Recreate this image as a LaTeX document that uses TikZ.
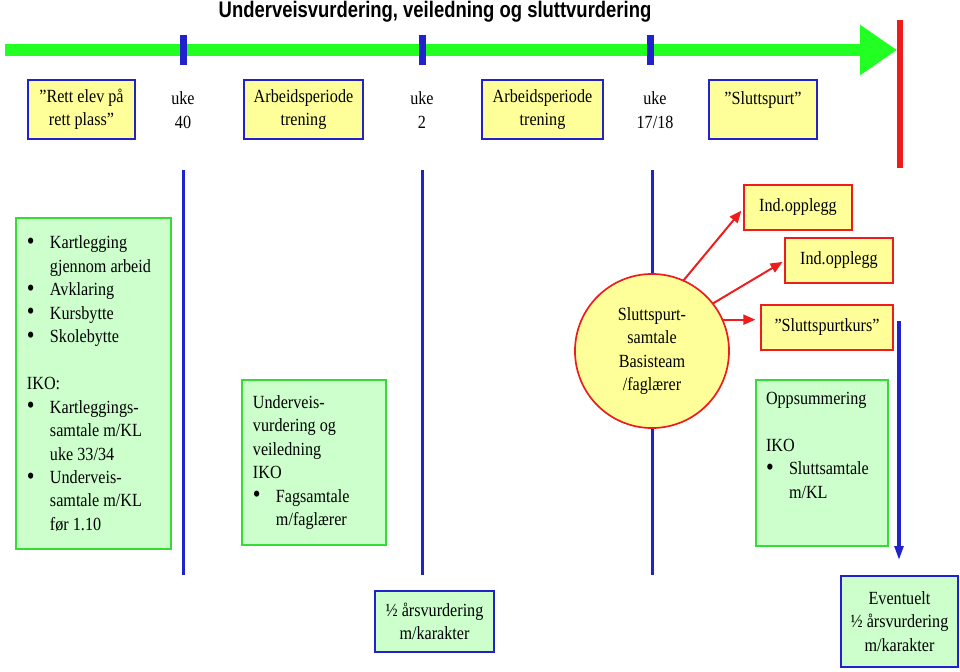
\documentclass[tikz,border=0pt]{standalone}
\usepackage{fontspec}
\setmainfont[FakeStretch=0.87]{Liberation Serif}
\newfontfamily\titelfont[FakeStretch=0.82]{Liberation Sans}
\usetikzlibrary{arrows.meta}

\definecolor{gul}{HTML}{FFFF99}
\definecolor{lysgronn}{HTML}{CCFFCC}
\definecolor{gronn}{HTML}{33DD33}
\definecolor{bla}{HTML}{2222CC}
\definecolor{rod}{HTML}{EE1C1C}
\definecolor{pilgronn}{HTML}{22FF22}

\newcommand{\pkt}{\makebox[0.575cm][l]{\raisebox{-0.5pt}{\fontsize{18pt}{0pt}\selectfont\textbullet}}}
\newcommand{\inn}{\hspace*{0.575cm}}

\begin{document}
\begin{tikzpicture}[x=0.025cm, y=-0.025cm]
\tikzset{ >=Triangle, inner sep=0pt, outer sep=0pt,
  font=\fontsize{13.2pt}{16.7pt}\selectfont,
  gulboks/.style={draw=bla, line width=1.4pt, fill=gul, align=center},
  rodboks/.style={draw=rod, line width=1.2pt, fill=gul, align=center,
                  minimum height=1.125cm},
  gronnboks/.style={draw=gronn, line width=1.2pt, fill=lysgronn, align=left,
                    inner xsep=0.275cm,
                    execute at begin node={\spaceskip=2.9pt plus 1pt\relax}},
  blaboks/.style={draw=bla, line width=1.2pt, fill=lysgronn, align=center},
  rodpil/.style={rod, line width=1.4pt, -{Triangle[length=0.3cm,width=0.25cm]}},
}

\useasboundingbox (0,0) rectangle (960,671);

%\draw [lightgray, dashed](0,0) grid[step=50] (960,671);

%%% Tidslinje

\node[font=\titelfont\bfseries\fontsize{16pt}{19pt}\selectfont] (tittel) at (435,12)
  {Underveisvurdering, veiledning og sluttvurdering};

\coordinate (tidstart) at (5,50);
\coordinate (tidslutt) at (897,50);
\draw[pilgronn, line width=0.3cm, -{Triangle[length=0.925cm,width=1.2cm]}] (tidstart) -- (tidslutt);

% merker for ukene
\coordinate (merke1o) at (183,35);
\coordinate (merke1u) at (183,65);
\coordinate (merke2o) at (422,35);
\coordinate (merke2u) at (422,65);
\coordinate (merke3o) at (650,35);
\coordinate (merke3u) at (650,65);
\draw[bla, line width=0.175cm] (merke1o) -- (merke1u);
\draw[bla, line width=0.175cm] (merke2o) -- (merke2u);
\draw[bla, line width=0.175cm] (merke3o) -- (merke3u);

% slutt
\coordinate (sluttopp) at (900,20);
\coordinate (sluttbunn) at (900,168);
\draw[rod, line width=0.15cm] (sluttopp) -- (sluttbunn);

%%% Perioder

\node[gulboks, minimum width=2.675cm, minimum height=1.475cm] (rettelev) at (81.5,109.5)
  {”Rett elev på\\rett plass”};
\node[align=center] (uke40) at (183,110) {uke\\40};
\node[gulboks, minimum width=2.975cm, minimum height=1.475cm] (arbeid1) at (303.5,109.5)
  {Arbeidsperiode\\trening};
\node[align=center] (uke2) at (422,110) {uke\\2};
\node[gulboks, minimum width=3.025cm, minimum height=1.475cm] (arbeid2) at (542.5,109.5)
  {Arbeidsperiode\\trening};
\node[align=center] (uke17) at (655,110) {uke\\17/18};
\node[gulboks, minimum width=2.7cm, minimum height=1.475cm] (sluttspurt) at (763,109.5)
  {”Sluttspurt”\\~};

%%% Skillelinjer

\coordinate (skille1o) at (183,170);
\coordinate (skille1u) at (183,575);
\coordinate (skille2o) at (422,170);
\coordinate (skille2u) at (422,575);
\coordinate (skille3o) at (652,170);
\coordinate (skille3u) at (652,575);
\draw[bla, line width=0.075cm] (skille1o) -- (skille1u);
\draw[bla, line width=0.075cm] (skille2o) -- (skille2u);
\draw[bla, line width=0.075cm] (skille3o) -- (skille3u);

%%% Innhold

% kartlegging
\node[gronnboks, text width=3.325cm, minimum height=8.275cm] (kartlegging) at (93.5,383.5)
  {\pkt Kartlegging\\ \inn gjennom arbeid\\ \pkt Avklaring\\ \pkt Kursbytte\\
   \pkt Skolebytte\\[16.7pt] IKO:\\ \pkt Kartleggings-\\ \inn samtale m/KL\\
   \inn uke 33/34\\ \pkt Underveis-\\ \inn samtale m/KL\\ \inn før 1.10};

% underveisvurdering
\node[gronnboks, text width=3.05cm, minimum height=4.125cm] (underveis) at (314,462.5)
  {Underveis-\\ vurdering og\\ veiledning\\ IKO\\ \pkt Fagsamtale\\ \inn m/faglærer};

% sluttspurtsamtale
\node[circle, draw=rod, fill=gul, line width=1.2pt, minimum size=3.85cm, align=center]
  (samtale) at (652,351) {Sluttspurt-\\samtale\\Basisteam\\/faglærer};

\node[rodboks, minimum width=2.7cm] (indopp1) at (798,207.5) {Ind.opplegg};
\node[rodboks, minimum width=2.7cm] (indopp2) at (839,260.5) {Ind.opplegg};
\node[rodboks, minimum width=3.3cm] (kurs) at (827,327.5) {”Sluttspurtkurs”};

\draw[rodpil, shorten >=3pt] (samtale.66) -- (indopp1.west);
\draw[rodpil, shorten >=2pt] (samtale.38) -- (indopp2.west);
\draw[rodpil, shorten >=4pt] (samtale.24) -- (samtale.24 -| kurs.west);

% oppsummering
\node[gronnboks, minimum width=3.3cm, minimum height=4.15cm] (oppsum) at (822,463) {};
\node[anchor=north west, align=left] (oppsumtekst) at (766,392)
  {Oppsummering\\[16.7pt] IKO\\ \pkt Sluttsamtale\\ \inn m/KL};

\coordinate (pilstart) at (899,321);
\coordinate (pilslutt) at (899,560);
\draw[bla, line width=2.2pt, -{Triangle[length=0.35cm,width=0.22cm]}] (pilstart) -- (pilslutt);

%%% Vurderinger

\node[blaboks, minimum width=2.975cm, minimum height=1.525cm] (halvaar) at (434.5,621.5)
  {½ årsvurdering\\m/karakter};
\node[blaboks, minimum width=2.925cm, minimum height=2.275cm] (eventuelt) at (899.5,621.5)
  {Eventuelt\\½ årsvurdering\\m/karakter};

\end{tikzpicture}
\end{document}
